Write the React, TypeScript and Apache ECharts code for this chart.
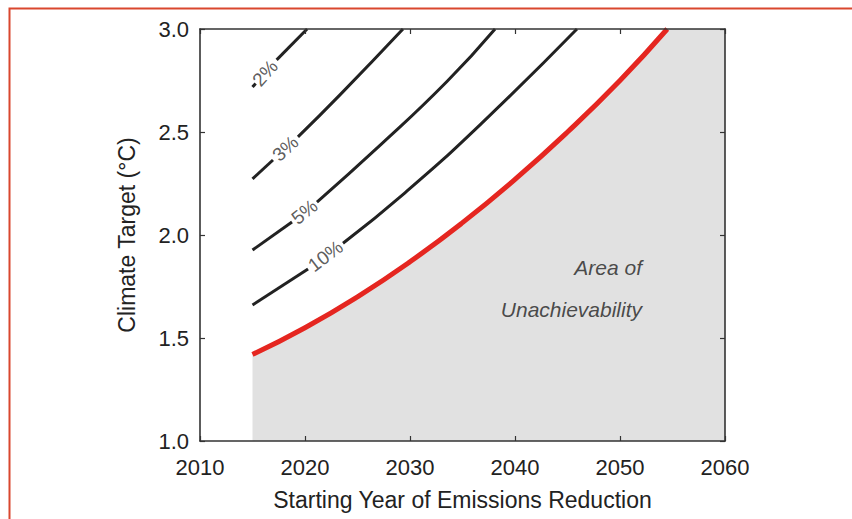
import React, { useEffect, useRef } from "react";
import * as echarts from "echarts";

// Axis ranges and ticks
const xTicks = [2010, 2020, 2030, 2040, 2050, 2060];
const yTicks = [1.0, 1.5, 2.0, 2.5, 3.0];

// Red boundary of achievability (year, °C)
const redBoundary: [number, number][] = [
  [2015, 1.42], [2020, 1.55], [2025, 1.70], [2030, 1.87], [2035, 2.06],
  [2040, 2.27], [2045, 2.50], [2050, 2.75], [2054.5, 3.0],
];
// Unachievable region right of where the boundary leaves the plot
const grayTopRight: [number, number][] = [[2054.2, 3.0], [2060, 3.0]];

// Contours (split around the inline labels)
const c2a: [number, number][] = [[2015, 2.718], [2015.3, 2.735]];
const c2b: [number, number][] = [[2017.3, 2.85], [2020.2, 3.0]];
const c3a: [number, number][] = [[2015, 2.272], [2016.95, 2.364]];
const c3b: [number, number][] = [[2019.33, 2.476], [2023.33, 2.68], [2029.33, 3.0]];
const c5a: [number, number][] = [[2015, 1.927], [2018.76, 2.063]];
const c5b: [number, number][] = [[2021.14, 2.16], [2027.14, 2.435], [2033.52, 2.745], [2038.1, 3.0]];
const c10a: [number, number][] = [[2015, 1.66], [2020.29, 1.835]];
const c10b: [number, number][] = [[2023.62, 1.96], [2029.52, 2.205], [2036.67, 2.535], [2045.9, 3.0]];

// Contour labels: [year, value, text, rotation]
const contourLabels: [number, number, string, number][] = [
  [2016.2, 2.786, "2%", 48],
  [2018.14, 2.42, "3%", 43],
  [2019.95, 2.112, "5%", 39],
  [2021.95, 1.898, "10%", 37],
];

const areaTexts: [number, number, string][] = [
  [2052.1, 1.84, "Area of"],
  [2052.1, 1.636, "Unachievability"],
];

const FONT = "Liberation Sans, Arial, Helvetica, sans-serif";
const INK = "#222222";
const GRAY = "#e1e1e1";

export default function App() {
  const ref = useRef<HTMLDivElement>(null);
  useEffect(() => {
    document.body.style.margin = "0";
    if (!ref.current) return;
    const chart = echarts.init(ref.current, undefined, { renderer: "svg" });

    const axisLine = { show: true, lineStyle: { color: "#333", width: 1.6 } };
    const axisTick = { show: true, inside: true, length: 5, lineStyle: { color: "#333", width: 1.2 } };

    const blackLine = (data: [number, number][]) => ({
      type: "line",
      data,
      smooth: 0.5,
      symbol: "none",
      lineStyle: { color: INK, width: 3 },
      z: 3,
    });

    const option: any = {
      animation: false,
      textStyle: { fontFamily: FONT },
      grid: { left: 200, right: 127, top: 29, bottom: 78, containLabel: false },
      graphic: [
        {
          type: "rect",
          shape: { x: 9.5, y: 8.5, width: 900, height: 600 },
          style: { fill: "none", stroke: "#d9472e", lineWidth: 2 },
          silent: true,
          z: 100,
        },
      ],
      xAxis: [
        {
          type: "value",
          min: xTicks[0],
          max: xTicks[xTicks.length - 1],
          interval: 10,
          position: "bottom",
          z: 10,
          axisLine,
          axisTick,
          splitLine: { show: false },
          axisLabel: { fontSize: 22, color: INK, margin: 15, fontFamily: FONT, formatter: (v: number) => String(v) },
          name: "Starting Year of Emissions Reduction",
          nameLocation: "middle",
          nameGap: 47,
          nameTextStyle: { fontSize: 23, color: INK, fontFamily: FONT },
        },
        {
          type: "value",
          min: xTicks[0],
          max: xTicks[xTicks.length - 1],
          interval: 10,
          position: "top",
          z: 10,
          axisLine,
          axisTick,
          splitLine: { show: false },
          axisLabel: { show: false },
        },
      ],
      yAxis: [
        {
          type: "value",
          min: yTicks[0],
          max: yTicks[yTicks.length - 1],
          interval: 0.5,
          position: "left",
          z: 10,
          axisLine,
          axisTick,
          splitLine: { show: false },
          axisLabel: {
            fontSize: 22,
            color: INK,
            margin: 11,
            fontFamily: FONT,
            formatter: (v: number) => v.toFixed(1),
          },
          name: "Climate Target (°C)",
          nameLocation: "middle",
          nameGap: 62,
          nameTextStyle: { fontSize: 23, color: INK, fontFamily: FONT },
        },
        {
          type: "value",
          min: yTicks[0],
          max: yTicks[yTicks.length - 1],
          interval: 0.5,
          position: "right",
          z: 10,
          axisLine,
          axisTick,
          splitLine: { show: false },
          axisLabel: { show: false },
        },
      ],
      series: [
        {
          type: "line",
          data: redBoundary,
          smooth: 0.5,
          symbol: "none",
          lineStyle: { width: 0, color: GRAY },
          areaStyle: { color: GRAY, opacity: 1, origin: "start" },
          z: 1,
        },
        {
          type: "line",
          data: grayTopRight,
          symbol: "none",
          lineStyle: { width: 0, color: GRAY },
          areaStyle: { color: GRAY, opacity: 1, origin: "start" },
          z: 1,
        },
        blackLine(c2a),
        blackLine(c2b),
        blackLine(c3a),
        blackLine(c3b),
        blackLine(c5a),
        blackLine(c5b),
        blackLine(c10a),
        blackLine(c10b),
        {
          type: "line",
          data: redBoundary,
          smooth: 0.5,
          symbol: "none",
          lineStyle: { color: "#e52620", width: 5 },
          z: 4,
        },
        {
          type: "scatter",
          symbolSize: 0,
          z: 5,
          data: contourLabels.map((d) => ({
            value: [d[0], d[1]],
            label: {
              show: true,
              position: "inside",
              formatter: d[2],
              rotate: d[3],
              fontSize: 19,
              color: "#333",
              fontFamily: FONT,
            },
          })),
        },
        {
          type: "scatter",
          symbolSize: 0,
          z: 5,
          data: areaTexts.map((d) => ({
            value: [d[0], d[1]],
            label: {
              show: true,
              position: "left",
              distance: 0,
              formatter: d[2],
              fontSize: 21,
              fontStyle: "italic",
              color: INK,
              fontFamily: FONT,
            },
          })),
        },
      ],
    };
    chart.setOption(option);
    return () => chart.dispose();
  }, []);
  return <div ref={ref} style={{ width: 852, height: 519 }} />;
}
